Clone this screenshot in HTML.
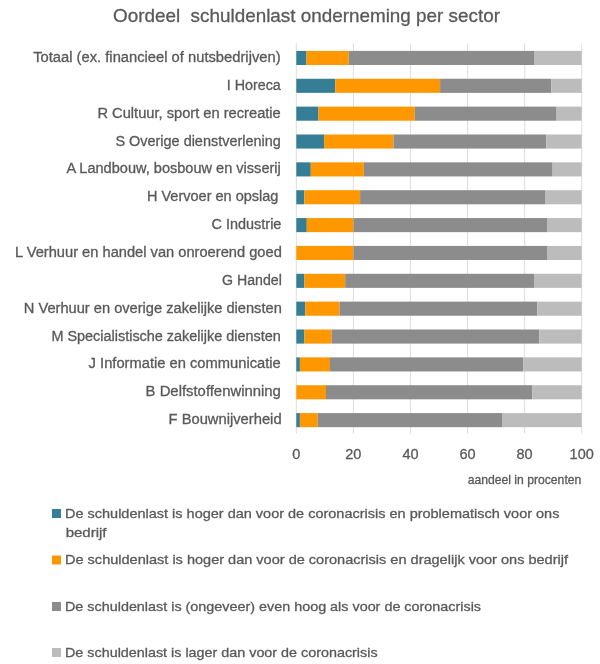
<!DOCTYPE html><html><head><meta charset="utf-8"><style>html,body{margin:0;padding:0;background:#fff;}svg{display:block;will-change:transform;}text{font-family:"Liberation Sans",sans-serif;fill:#595959;stroke:#595959;stroke-width:0.3px;}</style></head><body>
<svg width="600" height="664" viewBox="0 0 600 664">
<rect x="295.80" y="43.3" width="1" height="390.2" fill="#dedede"/>
<rect x="352.88" y="43.3" width="1" height="390.2" fill="#dedede"/>
<rect x="409.96" y="43.3" width="1" height="390.2" fill="#dedede"/>
<rect x="467.04" y="43.3" width="1" height="390.2" fill="#dedede"/>
<rect x="524.12" y="43.3" width="1" height="390.2" fill="#dedede"/>
<rect x="581.20" y="43.3" width="1" height="390.2" fill="#dedede"/>
<rect x="296.30" y="50.90" width="10.20" height="14.1" fill="#367e95"/>
<rect x="306.50" y="50.90" width="42.20" height="14.1" fill="#ff9800"/>
<rect x="348.70" y="50.90" width="185.90" height="14.1" fill="#8c8c8c"/>
<rect x="534.60" y="50.90" width="47.10" height="14.1" fill="#bcbcbc"/>
<rect x="296.30" y="78.76" width="39.00" height="14.1" fill="#367e95"/>
<rect x="335.30" y="78.76" width="104.80" height="14.1" fill="#ff9800"/>
<rect x="440.10" y="78.76" width="111.30" height="14.1" fill="#8c8c8c"/>
<rect x="551.40" y="78.76" width="30.30" height="14.1" fill="#bcbcbc"/>
<rect x="296.30" y="106.62" width="22.20" height="14.1" fill="#367e95"/>
<rect x="318.50" y="106.62" width="96.30" height="14.1" fill="#ff9800"/>
<rect x="414.80" y="106.62" width="141.80" height="14.1" fill="#8c8c8c"/>
<rect x="556.60" y="106.62" width="25.10" height="14.1" fill="#bcbcbc"/>
<rect x="296.30" y="134.48" width="27.80" height="14.1" fill="#367e95"/>
<rect x="324.10" y="134.48" width="69.40" height="14.1" fill="#ff9800"/>
<rect x="393.50" y="134.48" width="152.90" height="14.1" fill="#8c8c8c"/>
<rect x="546.40" y="134.48" width="35.30" height="14.1" fill="#bcbcbc"/>
<rect x="296.30" y="162.34" width="14.50" height="14.1" fill="#367e95"/>
<rect x="310.80" y="162.34" width="53.10" height="14.1" fill="#ff9800"/>
<rect x="363.90" y="162.34" width="188.70" height="14.1" fill="#8c8c8c"/>
<rect x="552.60" y="162.34" width="29.10" height="14.1" fill="#bcbcbc"/>
<rect x="296.30" y="190.20" width="8.10" height="14.1" fill="#367e95"/>
<rect x="304.40" y="190.20" width="55.70" height="14.1" fill="#ff9800"/>
<rect x="360.10" y="190.20" width="184.90" height="14.1" fill="#8c8c8c"/>
<rect x="545.00" y="190.20" width="36.70" height="14.1" fill="#bcbcbc"/>
<rect x="296.30" y="218.06" width="10.50" height="14.1" fill="#367e95"/>
<rect x="306.80" y="218.06" width="46.70" height="14.1" fill="#ff9800"/>
<rect x="353.50" y="218.06" width="193.50" height="14.1" fill="#8c8c8c"/>
<rect x="547.00" y="218.06" width="34.70" height="14.1" fill="#bcbcbc"/>
<rect x="296.30" y="245.92" width="57.20" height="14.1" fill="#ff9800"/>
<rect x="353.50" y="245.92" width="193.50" height="14.1" fill="#8c8c8c"/>
<rect x="547.00" y="245.92" width="34.70" height="14.1" fill="#bcbcbc"/>
<rect x="296.30" y="273.78" width="8.10" height="14.1" fill="#367e95"/>
<rect x="304.40" y="273.78" width="40.80" height="14.1" fill="#ff9800"/>
<rect x="345.20" y="273.78" width="188.80" height="14.1" fill="#8c8c8c"/>
<rect x="534.00" y="273.78" width="47.70" height="14.1" fill="#bcbcbc"/>
<rect x="296.30" y="301.64" width="8.90" height="14.1" fill="#367e95"/>
<rect x="305.20" y="301.64" width="34.40" height="14.1" fill="#ff9800"/>
<rect x="339.60" y="301.64" width="197.80" height="14.1" fill="#8c8c8c"/>
<rect x="537.40" y="301.64" width="44.30" height="14.1" fill="#bcbcbc"/>
<rect x="296.30" y="329.50" width="8.10" height="14.1" fill="#367e95"/>
<rect x="304.40" y="329.50" width="27.20" height="14.1" fill="#ff9800"/>
<rect x="331.60" y="329.50" width="207.60" height="14.1" fill="#8c8c8c"/>
<rect x="539.20" y="329.50" width="42.50" height="14.1" fill="#bcbcbc"/>
<rect x="296.30" y="357.36" width="3.60" height="14.1" fill="#367e95"/>
<rect x="299.90" y="357.36" width="30.10" height="14.1" fill="#ff9800"/>
<rect x="330.00" y="357.36" width="193.40" height="14.1" fill="#8c8c8c"/>
<rect x="523.40" y="357.36" width="58.30" height="14.1" fill="#bcbcbc"/>
<rect x="296.30" y="385.22" width="29.70" height="14.1" fill="#ff9800"/>
<rect x="326.00" y="385.22" width="206.40" height="14.1" fill="#8c8c8c"/>
<rect x="532.40" y="385.22" width="49.30" height="14.1" fill="#bcbcbc"/>
<rect x="296.30" y="413.08" width="3.60" height="14.1" fill="#367e95"/>
<rect x="299.90" y="413.08" width="17.80" height="14.1" fill="#ff9800"/>
<rect x="317.70" y="413.08" width="184.90" height="14.1" fill="#8c8c8c"/>
<rect x="502.60" y="413.08" width="79.10" height="14.1" fill="#bcbcbc"/>
<text x="33.20" y="62.00" font-size="14" textLength="247.40" lengthAdjust="spacingAndGlyphs">Totaal (ex. financieel of nutsbedrijven)</text>
<text x="226.80" y="89.86" font-size="14" textLength="54.00" lengthAdjust="spacingAndGlyphs">I Horeca</text>
<text x="97.40" y="117.72" font-size="14" textLength="183.40" lengthAdjust="spacingAndGlyphs">R Cultuur, sport en recreatie</text>
<text x="115.40" y="145.58" font-size="14" textLength="165.40" lengthAdjust="spacingAndGlyphs">S Overige dienstverlening</text>
<text x="66.40" y="173.44" font-size="14" textLength="214.40" lengthAdjust="spacingAndGlyphs">A Landbouw, bosbouw en visserij</text>
<text x="147.00" y="201.30" font-size="14" textLength="131.40" lengthAdjust="spacingAndGlyphs">H Vervoer en opslag</text>
<text x="211.60" y="229.16" font-size="14" textLength="69.80" lengthAdjust="spacingAndGlyphs">C Industrie</text>
<text x="15.00" y="257.02" font-size="14" textLength="266.80" lengthAdjust="spacingAndGlyphs">L Verhuur en handel van onroerend goed</text>
<text x="222.00" y="284.88" font-size="14" textLength="59.80" lengthAdjust="spacingAndGlyphs">G Handel</text>
<text x="23.80" y="312.74" font-size="14" textLength="258.00" lengthAdjust="spacingAndGlyphs">N Verhuur en overige zakelijke diensten</text>
<text x="51.40" y="340.60" font-size="14" textLength="229.40" lengthAdjust="spacingAndGlyphs">M Specialistische zakelijke diensten</text>
<text x="88.60" y="368.46" font-size="14" textLength="192.20" lengthAdjust="spacingAndGlyphs">J Informatie en communicatie</text>
<text x="145.60" y="396.32" font-size="14" textLength="135.20" lengthAdjust="spacingAndGlyphs">B Delfstoffenwinning</text>
<text x="168.55" y="424.18" font-size="14" textLength="113.05" lengthAdjust="spacingAndGlyphs">F Bouwnijverheid</text>
<text x="113" y="22" font-size="19" textLength="387" lengthAdjust="spacingAndGlyphs" xml:space="preserve">Oordeel  schuldenlast onderneming per sector</text>
<text x="296.30" y="459" font-size="14.5" text-anchor="middle">0</text>
<text x="353.38" y="459" font-size="14.5" text-anchor="middle">20</text>
<text x="410.46" y="459" font-size="14.5" text-anchor="middle">40</text>
<text x="467.54" y="459" font-size="14.5" text-anchor="middle">60</text>
<text x="524.62" y="459" font-size="14.5" text-anchor="middle">80</text>
<text x="581.70" y="459" font-size="14.5" text-anchor="middle">100</text>
<text x="467.7" y="483.7" font-size="12.5" textLength="113.6" lengthAdjust="spacingAndGlyphs">aandeel in procenten</text>
<rect x="52" y="509" width="9" height="9" fill="#367e95"/>
<text x="65" y="518" font-size="13.3" textLength="494.4" lengthAdjust="spacingAndGlyphs">De schuldenlast is hoger dan voor de coronacrisis en problematisch voor ons</text>
<text x="65.7" y="537" font-size="13.3" textLength="40.8" lengthAdjust="spacingAndGlyphs">bedrijf</text>
<rect x="52" y="555.5" width="9" height="9" fill="#ff9800"/>
<text x="65" y="564.4" font-size="13.3" textLength="503" lengthAdjust="spacingAndGlyphs">De schuldenlast is hoger dan voor de coronacrisis en dragelijk voor ons bedrijf</text>
<rect x="52" y="602" width="9" height="9" fill="#8c8c8c"/>
<text x="65" y="611" font-size="13.3" textLength="416" lengthAdjust="spacingAndGlyphs">De schuldenlast is (ongeveer) even hoog als voor de coronacrisis</text>
<rect x="52" y="648" width="9" height="9" fill="#bcbcbc"/>
<text x="65" y="657" font-size="13.3" textLength="312.6" lengthAdjust="spacingAndGlyphs">De schuldenlast is lager dan voor de coronacrisis</text>
</svg></body></html>
